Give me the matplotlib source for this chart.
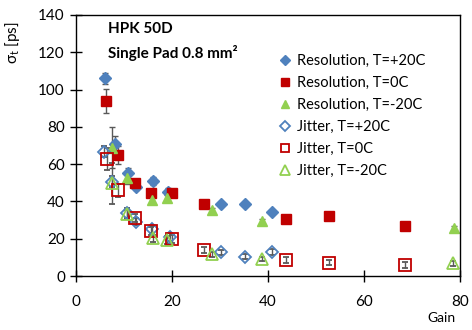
import matplotlib
matplotlib.use("Agg")
import matplotlib.pyplot as plt

plt.rcParams['font.family'] = ['Lato', 'DejaVu Sans']

# Resolution data
res_p20_x = [6.0, 8.1, 10.9, 12.6, 16.1, 19.2, 30.2, 35.3, 40.9]
res_p20_y = [106, 71, 55, 48, 51, 45, 38.5, 38.5, 34.5]
res_p20_e = [3, 4, 3, 2, 2, 2, 1, 1, 1]

res_0_x = [6.25, 8.8, 12.3, 15.6, 20.1, 26.7, 43.75, 52.7, 68.6]
res_0_y = [94, 65, 50, 44.4, 44.4, 38.5, 30.4, 32.2, 26.8]
res_0_e = [6.5, 5, 2, 2, 2, 1, 1, 1, 1]

res_m20_x = [7.4, 10.6, 15.8, 19.0, 28.4, 38.8, 78.8]
res_m20_y = [68.8, 52.5, 40.5, 41.7, 35.4, 29.5, 25.6]
res_m20_e = [11, 3, 2, 2, 1, 1, 1]

# Jitter data
jit_p20_x = [5.8, 7.5, 10.6, 12.6, 15.8, 19.6, 30.2, 35.3, 40.9]
jit_p20_y = [66.7, 50.6, 33.6, 29.1, 25.0, 20.8, 12.7, 10.4, 13.0]
jit_p20_e = [3, 3, 3, 2, 2, 2, 1.5, 1.5, 1.5]

jit_0_x = [6.4, 8.8, 12.3, 15.6, 20.1, 26.7, 43.75, 52.7, 68.6]
jit_0_y = [62.6, 46.1, 31.0, 24.1, 19.8, 14.0, 8.6, 7.2, 5.9]
jit_0_e = [6, 3.5, 2, 2, 2, 1.5, 1.5, 1.5, 1.5]

jit_m20_x = [7.4, 10.6, 16.0, 19.0, 28.4, 38.7, 78.6]
jit_m20_y = [49.7, 33.3, 20.2, 19.3, 11.6, 9.0, 6.8]
jit_m20_e = [11, 2, 2, 2, 1.5, 1, 1.5]

labels = ["Resolution, T=+20C", "Resolution, T=0C", "Resolution, T=-20C",
          "Jitter, T=+20C", "Jitter, T=0C", "Jitter, T=-20C"]

blue = "#4F81BD"
red = "#C00000"
green = "#92D050"
ecol = "#595959"

fig = plt.figure(figsize=(4.72, 3.30), dpi=100)
ax = fig.add_axes([76/472, 54/330, 384/472, 261/330])

common = dict(linestyle='none', ecolor=ecol, elinewidth=1.0, capsize=2.5, capthick=1.0)

ax.errorbar(res_p20_x, res_p20_y, yerr=res_p20_e, marker='D', ms=6.5, mfc=blue, mec=blue, label=labels[0], **common)
ax.errorbar(res_0_x, res_0_y, yerr=res_0_e, marker='s', ms=6.5, mfc=red, mec=red, label=labels[1], **common)
ax.errorbar(res_m20_x, res_m20_y, yerr=res_m20_e, marker='^', ms=6.5, mfc=green, mec=green, label=labels[2], **common)
ax.errorbar(jit_p20_x, jit_p20_y, yerr=jit_p20_e, marker='D', ms=6.5, mfc='none', mec=blue, mew=1.3, label=labels[3], **common)
ax.errorbar(jit_0_x, jit_0_y, yerr=jit_0_e, marker='s', ms=8, mfc='none', mec=red, mew=1.3, label=labels[4], **common)
ax.errorbar(jit_m20_x, jit_m20_y, yerr=jit_m20_e, marker='^', ms=8.5, mfc='none', mec=green, mew=1.3, label=labels[5], **common)

ax.set_xlim(0, 80)
ax.set_ylim(0, 140)
ax.set_xticks([0, 20, 40, 60, 80])
ax.set_yticks([0, 20, 40, 60, 80, 100, 120, 140])
ax.tick_params(direction='inout', length=8, width=1, labelsize=11, colors='black', pad=4)
ax.tick_params(axis='x', pad=10)
for s in ax.spines.values():
    s.set_linewidth(1.0)
    s.set_color('black')

ax.set_ylabel(r"σ$_\mathregular{t}$ [ps]", fontsize=11)
ax.yaxis.set_label_coords(-0.14, 0.895)

ax.text(0.083, 0.945, "HPK 50D", transform=ax.transAxes, fontsize=11, fontweight='bold', va='center')
ax.text(0.083, 0.853, "Single Pad 0.8 mm²", transform=ax.transAxes, fontsize=11, fontweight='bold', va='center')

fig.text(441/472, 1 - 318/330, "Gain", fontsize=10, ha='center', va='center')

h, l = ax.get_legend_handles_labels()
h = [hh[0] for hh in h]
leg = ax.legend(h, l, loc='upper left', bbox_to_anchor=(0.53, 0.85), frameon=False,
                fontsize=10.5, handlelength=0.8, handletextpad=0.4, labelspacing=0.55,
                borderaxespad=0, borderpad=0, markerscale=0.8)

fig.savefig("out.png", dpi=100)
